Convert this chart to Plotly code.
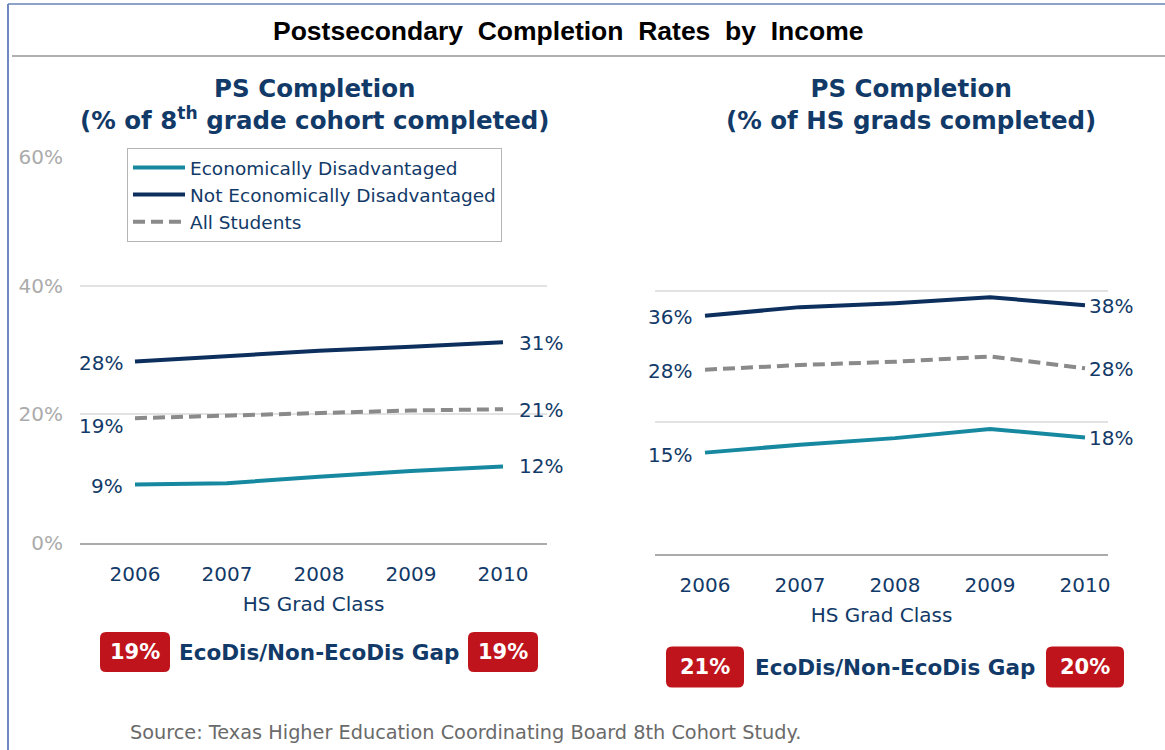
import plotly.graph_objects as go

# ---------------- data ----------------
years = [2006, 2007, 2008, 2009, 2010]

# Left panel: % of 8th grade cohort completed
left_ecodis = [9.1, 9.3, 10.3, 11.2, 11.9]
left_non_ecodis = [28.2, 29.0, 29.9, 30.5, 31.2]
left_all = [19.4, 19.8, 20.3, 20.6, 20.8]

# Right panel: % of HS grads completed
right_ecodis = [15.4, 16.6, 17.6, 19.0, 17.7]
right_non_ecodis = [36.2, 37.5, 38.1, 39.0, 37.8]
right_all = [28.0, 28.7, 29.2, 30.0, 28.2]

series_names = ["Economically Disadvantaged", "Not Economically Disadvantaged", "All Students"]
y_ticks = [0, 20, 40, 60]
y_tick_text = ["0%", "20%", "40%", "60%"]

main_title = "Postsecondary\u00a0 Completion\u00a0 Rates\u00a0 by\u00a0 Income"
left_title = "PS Completion<br>(% of 8<sup>th</sup> grade cohort completed)"
right_title = "PS Completion<br>(% of HS grads completed)"
x_title = "HS Grad Class"
gap_text = "EcoDis/Non-EcoDis Gap"
source_text = "Source: Texas Higher Education Coordinating Board 8th Cohort Study."

# ---------------- styles ----------------
TEAL = "#1689a0"
NAVY = "#0c2f5e"
GRAY = "#8a8a8a"
TXT = "#123a68"
RED = "#c0141c"
FONT = "DejaVu Sans"
W, H = 1165, 750

def px(x):
    return x / W

def py(y):
    return 1 - y / H

# axis geometry
X1_DOMAIN = [px(80), px(547)]
X1_RANGE = [2006 - 55 / 92, 2010 + 44 / 92]
X2_DOMAIN = [px(655), px(1108)]
X2_RANGE = [2006 - 50 / 95, 2010 + 23 / 95]

def data_to_paper(xv, domain, rng):
    return domain[0] + (xv - rng[0]) / (rng[1] - rng[0]) * (domain[1] - domain[0])

fig = go.Figure()

styles = [
    dict(color=TEAL, width=4),
    dict(color=NAVY, width=4),
    dict(color=GRAY, width=4, dash="12px,6px"),
]

left_series = [left_ecodis, left_non_ecodis, left_all]
right_series = [right_ecodis, right_non_ecodis, right_all]

for name, vals, st in zip(series_names, left_series, styles):
    fig.add_trace(go.Scatter(x=years, y=vals, mode="lines", name=name, line=st,
                             xaxis="x", yaxis="y", showlegend=True, hoverinfo="skip"))
for name, vals, st in zip(series_names, right_series, styles):
    fig.add_trace(go.Scatter(x=years, y=vals, mode="lines", name=name, line=st,
                             xaxis="x2", yaxis="y2", showlegend=False, hoverinfo="skip"))

annotations = []
shapes = []
LBL = 20

def end_labels(series, xref, yref, lshift, rshift, lyshift, ryshift):
    for vals, ly, ry in zip(series, lyshift, ryshift):
        annotations.append(dict(x=years[0], y=vals[0], xref=xref, yref=yref,
                                text=f"{round(vals[0])}%", showarrow=False,
                                xanchor="right", xshift=lshift, yshift=ly,
                                font=dict(family=FONT, size=LBL, color=TXT)))
        annotations.append(dict(x=years[-1], y=vals[-1], xref=xref, yref=yref,
                                text=f"{round(vals[-1])}%", showarrow=False,
                                xanchor="left", xshift=rshift, yshift=ry,
                                font=dict(family=FONT, size=LBL, color=TXT)))

end_labels(left_series, "x", "y", -10, 14, [-2, -1, -8], [0, -1, -1])
end_labels(right_series, "x2", "y2", -11, 2, [-2, -1, -1], [-1, -1, -1])

def rounded_rect(w, h, r):
    a, b = w / 2, h / 2
    return (f"M {-a + r},{-b} L {a - r},{-b} Q {a},{-b} {a},{-b + r} "
            f"L {a},{b - r} Q {a},{b} {a - r},{b} L {-a + r},{b} Q {-a},{b} {-a},{b - r} "
            f"L {-a},{-b + r} Q {-a},{-b} {-a + r},{-b} Z")

def gap_row(eco, non, domain, rng, ycenter, bw, bh):
    gaps = [round(non[0] - eco[0]), round(non[-1] - eco[-1])]
    for xv, g in zip([years[0], years[-1]], gaps):
        xp = data_to_paper(xv, domain, rng)
        shapes.append(dict(type="path", xref="paper", yref="paper",
                           xsizemode="pixel", ysizemode="pixel",
                           xanchor=xp, yanchor=py(ycenter),
                           path=rounded_rect(bw, bh, 6),
                           fillcolor=RED, line=dict(width=0), layer="above"))
        annotations.append(dict(x=xp, y=py(ycenter), xref="paper", yref="paper",
                                text=f"<b>{g}%</b>", showarrow=False,
                                xanchor="center", yanchor="middle",
                                font=dict(family=FONT, size=21, color="white")))
    annotations.append(dict(x=data_to_paper(years[2], domain, rng), y=py(ycenter),
                            xref="paper", yref="paper",
                            text=f"<b>{gap_text}</b>", showarrow=False,
                            xanchor="center", yanchor="middle",
                            font=dict(family=FONT, size=21.5, color=TXT)))

gap_row(left_ecodis, left_non_ecodis, X1_DOMAIN, X1_RANGE, 652, 70, 40)
gap_row(right_ecodis, right_non_ecodis, X2_DOMAIN, X2_RANGE, 667, 78, 41)

# titles
annotations.append(dict(x=px(568), y=py(31), xref="paper", yref="paper", text=f"<b>{main_title}</b>",
                        showarrow=False, xanchor="center", yanchor="middle",
                        font=dict(family="Liberation Sans", size=26.5, color="black")))
annotations.append(dict(x=px(315), y=py(104), xref="paper", yref="paper", text=f"<b>{left_title}</b>",
                        showarrow=False, xanchor="center", yanchor="middle",
                        font=dict(family=FONT, size=24.5, color=TXT)))
annotations.append(dict(x=px(911), y=py(104), xref="paper", yref="paper", text=f"<b>{right_title}</b>",
                        showarrow=False, xanchor="center", yanchor="middle",
                        font=dict(family=FONT, size=24.5, color=TXT)))
annotations.append(dict(x=px(128), y=py(732), xref="paper", yref="paper", text=source_text,
                        showarrow=False, xanchor="left", yanchor="middle",
                        font=dict(family=FONT, size=19.3, color="#6a6a6a")))

shapes += [
    dict(type="line", xref="paper", yref="paper", x0=px(8), x1=1, y0=py(4), y1=py(4),
         line=dict(color="#8ea2c8", width=2)),
    dict(type="line", xref="paper", yref="paper", x0=px(8), x1=px(8), y0=py(4), y1=0,
         line=dict(color="#6f88c4", width=2)),
    dict(type="line", xref="paper", yref="paper", x0=px(12), x1=1, y0=py(56), y1=py(56),
         line=dict(color="#b0b0b0", width=2)),
]

axis_common = dict(showgrid=False, zeroline=False, showline=True, linecolor="#ababab", linewidth=2,
                   tickmode="array", tickvals=years, ticktext=[str(y) for y in years],
                   tickfont=dict(family=FONT, size=20, color=TXT), ticks="",
                   ticklabelstandoff=12, fixedrange=True, automargin=False)
yaxis_common = dict(range=[0, 60], tickmode="array", tickvals=y_ticks, showgrid=True,
                    gridcolor="#e2e2e2", gridwidth=1.5, zeroline=False, showline=False,
                    ticks="", fixedrange=True, automargin=False)

fig.update_layout(
    width=W, height=H,
    margin=dict(l=0, r=0, t=0, b=0, pad=0, autoexpand=False),
    paper_bgcolor="white", plot_bgcolor="white",
    xaxis=dict(domain=X1_DOMAIN, range=X1_RANGE, anchor="y",
               title=dict(text=x_title, font=dict(family=FONT, size=20, color=TXT), standoff=12),
               **axis_common),
    yaxis=dict(domain=[py(543), py(157)], anchor="x", ticktext=y_tick_text, showticklabels=True,
               tickfont=dict(family=FONT, size=20, color="#ababab"), ticklabelstandoff=16,
               **yaxis_common),
    xaxis2=dict(domain=X2_DOMAIN, range=X2_RANGE, anchor="y2",
                title=dict(text=x_title, font=dict(family=FONT, size=20, color=TXT), standoff=12),
                **axis_common),
    yaxis2=dict(domain=[py(554), py(159)], anchor="x2", showticklabels=False, **yaxis_common),
    legend=dict(x=px(127), y=py(148), xanchor="left", yanchor="top",
                bordercolor="#b5b5b5", borderwidth=1, bgcolor="white",
                font=dict(family=FONT, size=18.5, color=TXT), tracegroupgap=0,
                itemwidth=52, traceorder="normal"),
    annotations=annotations,
    shapes=shapes,
    showlegend=True,
)

fig.write_html("out.html", config={"displayModeBar": False},
               post_script="document.body.style.margin='0';")
